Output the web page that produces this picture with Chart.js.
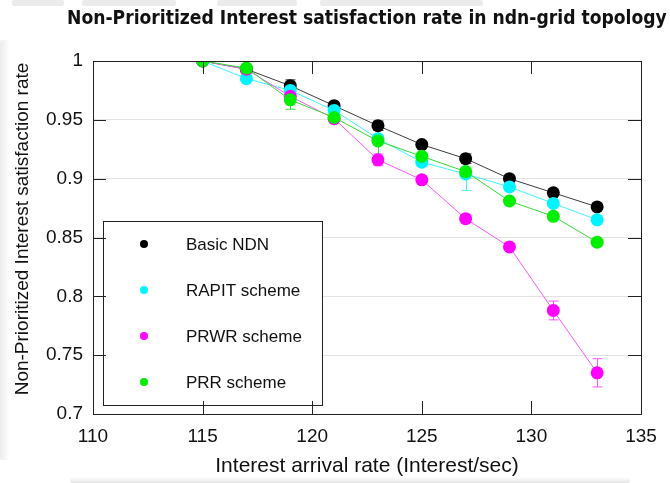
<!DOCTYPE html>
<html>
<head>
<meta charset="utf-8">
<script src="https://cdn.jsdelivr.net/npm/chart.js@4.4.1/dist/chart.umd.min.js"></script>
<style>
    html, body { margin: 0; padding: 0; background: #fff; }
    #wrap { position: relative; width: 670px; height: 483px; overflow: hidden; }
    .smudge { position: absolute; background: #ebebeb; border-radius: 2px; }
    canvas { position: absolute; left: 0; top: 0; }
</style>
</head>
<body>
<div id="wrap">
    <div class="smudge" style="left:12px; top:0; width:52px; height:6px;"></div>
    <div class="smudge" style="left:82px; top:0; width:94px; height:6px;"></div>
    <div class="smudge" style="left:217px; top:0; width:80px; height:6px;"></div>
    <div class="smudge" style="left:320px; top:0; width:163px; height:6px;"></div>
    <div class="smudge" style="left:0; top:40px; width:10px; height:420px; background:linear-gradient(90deg,#ececec,#fff);"></div>
    <div class="smudge" style="left:70px; top:477px; width:560px; height:6px; background:linear-gradient(180deg,#fff,#e4e4e4);"></div>
    <canvas id="chart" width="670" height="483"></canvas>
</div>
<script>
const FONT = '"Liberation Sans", Arial, sans-serif';

const xValues = [115, 117, 119, 121, 123, 125, 127, 129, 131, 133];

const basicNdn = [1.0, 0.993, 0.979, 0.962, 0.945, 0.929, 0.917, 0.900, 0.888, 0.876];
const rapit    = [1.0, 0.985, 0.975, 0.958, 0.934, 0.914, 0.904, 0.893, 0.879, 0.865];
const prwr     = [1.0, 0.993, 0.970, 0.951, 0.916, 0.899, 0.866, 0.842, 0.788, 0.735];
const prr      = [1.0, 0.994, 0.967, 0.952, 0.932, 0.919, 0.906, 0.881, 0.868, 0.846];

// error bar half-heights
const basicNdnErr = [0, 0.002, 0.005, 0.002, 0.004, 0.002, 0.004, 0.002, 0.002, 0.002];
const rapitErr    = [0, 0.002, 0.004, 0.002, 0.003, 0.003, 0.014, 0.003, 0.002, 0.002];
const prwrErr     = [0, 0.002, 0.004, 0.002, 0.005, 0.002, 0.003, 0.002, 0.008, 0.012];
const prrErr      = [0, 0.002, 0.008, 0.002, 0.015, 0.002, 0.003, 0.002, 0.002, 0.002];

const seriesNames = ['Basic NDN', 'RAPIT scheme', 'PRWR scheme', 'PRR scheme'];
const xTicks = [110, 115, 120, 125, 130, 135];
const yTicks = [0.7, 0.75, 0.8, 0.85, 0.9, 0.95, 1];

const chartTitle = 'Non-Prioritized Interest satisfaction rate in ndn-grid topology';
const yTitle = 'Non-Prioritized Interest satisfaction rate';

function toPoints(values) {
    return values.map((v, i) => ({ x: xValues[i], y: v }));
}

function makeSet(label, values, errors, pointColor, lineColor, order) {
    return {
        label: label,
        data: toPoints(values),
        errors: errors,
        borderColor: lineColor,
        backgroundColor: pointColor,
        pointBackgroundColor: pointColor,
        pointBorderColor: pointColor,
        pointBorderWidth: 0,
        pointRadius: 6.5,
        borderWidth: 1,
        tension: 0,
        order: order
    };
}

// chart title sits off-centre in the original, so draw it by hand
const titlePlugin = {
    id: 'topTitle',
    afterDraw(chart) {
        const ctx = chart.ctx;
        ctx.save();
        let size = 20;
        ctx.font = `bold ${size}px "DejaVu Sans Condensed", "DejaVu Sans", sans-serif`;
        const w = ctx.measureText(chartTitle).width;
        size = Math.min(20, size * 600 / w);
        ctx.font = `bold ${size}px "DejaVu Sans Condensed", "DejaVu Sans", sans-serif`;
        ctx.fillStyle = '#111';
        ctx.textAlign = 'left';
        ctx.textBaseline = 'middle';
        ctx.fillText(chartTitle, 67, 19);

        // y axis title, a bit above the axis middle like the original
        ctx.font = `19px ${FONT}`;
        ctx.translate(23, 229);
        ctx.rotate(-Math.PI / 2);
        ctx.textAlign = 'center';
        ctx.fillText(yTitle, 0, 0);
        ctx.restore();
    }
};

const errorBarPlugin = {
    id: 'errorBars',
    beforeDatasetsDraw(chart) {
        const { ctx, scales: { x, y } } = chart;
        ctx.save();
        ctx.lineWidth = 1;
        chart.data.datasets.forEach(ds => {
            ctx.strokeStyle = ds.borderColor;
            ds.data.forEach((p, i) => {
                const e = ds.errors[i];
                if (!e) return;
                const px = Math.round(x.getPixelForValue(p.x)) + 0.5;
                const top = y.getPixelForValue(p.y + e);
                const bot = y.getPixelForValue(p.y - e);
                ctx.beginPath();
                ctx.moveTo(px, top); ctx.lineTo(px, bot);
                ctx.moveTo(px - 5, top); ctx.lineTo(px + 5, top);
                ctx.moveTo(px - 5, bot); ctx.lineTo(px + 5, bot);
                ctx.stroke();
            });
        });
        ctx.restore();
    }
};

const legendPlugin = {
    id: 'boxLegend',
    afterDatasetsDraw(chart) {
        const ctx = chart.ctx;
        const box = { left: 103.5, top: 221.5, width: 219, height: 184 };
        ctx.save();
        ctx.fillStyle = '#fff';
        ctx.fillRect(box.left, box.top, box.width, box.height);
        ctx.strokeStyle = '#222';
        ctx.lineWidth = 1;
        ctx.strokeRect(box.left, box.top, box.width, box.height);
        ctx.font = `17px ${FONT}`;
        ctx.textBaseline = 'middle';
        ctx.textAlign = 'left';
        chart.data.datasets.forEach((ds, i) => {
            const rowY = 244 + i * 46;
            ctx.fillStyle = ds.pointBackgroundColor;
            ctx.beginPath();
            ctx.arc(144, rowY, 4, 0, Math.PI * 2);
            ctx.fill();
            ctx.fillStyle = '#111';
            ctx.fillText(ds.label, 186, rowY + 1);
        });
        ctx.restore();
    }
};

const framePlugin = {
    id: 'frame',
    afterDraw(chart) {
        const { ctx, chartArea: a, scales: { x, y } } = chart;
        const len = 13;
        ctx.save();
        ctx.strokeStyle = '#222';
        ctx.lineWidth = 1;
        ctx.strokeRect(Math.round(a.left) + 0.5, Math.round(a.top) + 0.5,
            Math.round(a.right - a.left), Math.round(a.bottom - a.top));
        ctx.beginPath();
        xTicks.forEach(v => {
            const px = Math.round(x.getPixelForValue(v)) + 0.5;
            ctx.moveTo(px, a.bottom); ctx.lineTo(px, a.bottom - len);
            ctx.moveTo(px, a.top); ctx.lineTo(px, a.top + len);
        });
        yTicks.forEach(v => {
            const py = Math.round(y.getPixelForValue(v)) + 0.5;
            ctx.moveTo(a.left, py); ctx.lineTo(a.left + len, py);
            ctx.moveTo(a.right, py); ctx.lineTo(a.right - len, py);
        });
        ctx.stroke();
        ctx.restore();
    }
};

new Chart(document.getElementById('chart'), {
    type: 'line',
    data: {
        datasets: [
            makeSet(seriesNames[0], basicNdn, basicNdnErr, '#000000', '#3c3c3c', 4),
            makeSet(seriesNames[1], rapit, rapitErr, '#00f4ff', '#3cf4ff', 3),
            makeSet(seriesNames[2], prwr, prwrErr, '#ff00ff', '#ff55ff', 2),
            makeSet(seriesNames[3], prr, prrErr, '#00ee00', '#33dd33', 1)
        ]
    },
    options: {
        responsive: false,
        animation: false,
        layout: { padding: { left: 0, right: 29, top: 61, bottom: 4 } },
        scales: {
            x: {
                type: 'linear',
                min: 110,
                max: 135,
                afterBuildTicks: s => { s.ticks = xTicks.map(v => ({ value: v })); },
                ticks: { color: '#111', font: { family: FONT, size: 19 }, padding: 11, maxRotation: 0 },
                grid: { display: false, drawTicks: false },
                border: { display: false },
                title: {
                    display: true,
                    text: 'Interest arrival rate (Interest/sec)',
                    color: '#111',
                    font: { family: FONT, size: 21 },
                    padding: { top: 0, bottom: 0 }
                },
                afterFit: s => { s.height = 65; }
            },
            y: {
                min: 0.7,
                max: 1,
                afterBuildTicks: s => { s.ticks = yTicks.map(v => ({ value: v })); },
                ticks: {
                    color: '#111',
                    font: { family: FONT, size: 19 },
                    padding: 10,
                    callback: v => String(parseFloat(v.toFixed(2)))
                },
                grid: { color: '#e3e3e3', drawTicks: false },
                border: { display: false },
                afterFit: s => { s.width = 93; }
            }
        },
        plugins: {
            legend: { display: false },
            tooltip: { enabled: false },
            title: { display: false }
        }
    },
    plugins: [titlePlugin, errorBarPlugin, legendPlugin, framePlugin]
});
</script>
</body>
</html>
